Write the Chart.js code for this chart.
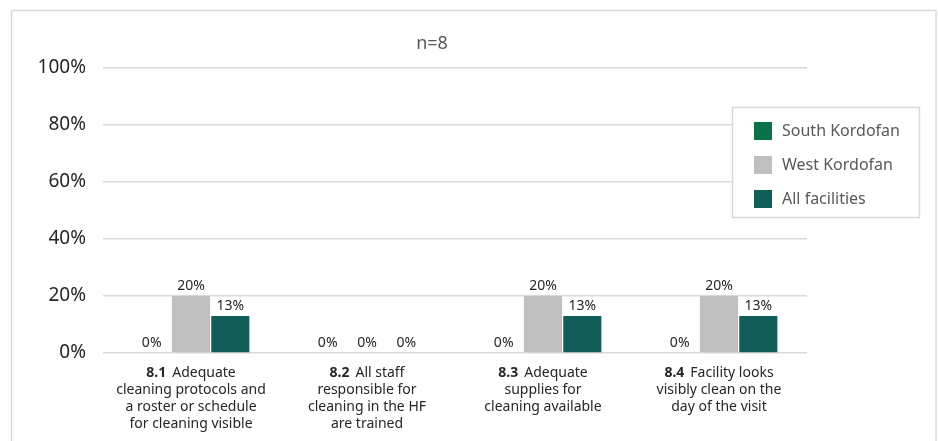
<!DOCTYPE html>
<html>
<head>
<meta charset="utf-8">
<script src="https://cdn.jsdelivr.net/npm/chart.js@4"></script>
<style>
  html, body { margin: 0; padding: 0; background: #fff; }
  #wrap { position: relative; width: 938px; height: 441px; }
</style>
</head>
<body>
<div id="wrap"><canvas id="chart" width="938" height="441"></canvas></div>
<script>
// data
const categories = ['8.1', '8.2', '8.3', '8.4'];
const categoryText = [
    ['Adequate', 'cleaning protocols and', 'a roster or schedule', 'for cleaning visible'],
    ['All staff', 'responsible for', 'cleaning in the HF', 'are trained'],
    ['Adequate', 'supplies for', 'cleaning available'],
    ['Facility looks', 'visibly clean on the', 'day of the visit']
];
const southKordofan = [0, 0, 0, 0];
const westKordofan = [20, 0, 20, 20];
const allFacilities = [13, 0, 13, 13];
const yTicks = [0, 20, 40, 60, 80, 100];
const subtitle = 'n=8';

const FONT = '"Noto Sans", "Open Sans", sans-serif';

// border, subtitle, value labels, category labels, legend box
const extras = {
    id: 'extras',
    beforeDraw(chart) {
        const c = chart.ctx;
        c.save();
        c.strokeStyle = '#d9d9d9';
        c.lineWidth = 1.5;
        c.strokeRect(11.5, 10.5, 924.5, 440);
        c.restore();
    },
    afterDatasetsDraw(chart) {
        const c = chart.ctx;
        const x = chart.scales.x;
        c.save();

        // subtitle
        c.fillStyle = '#595959';
        c.font = '18px ' + FONT;
        c.textAlign = 'center';
        c.textBaseline = 'middle';
        c.fillText(subtitle, 432, 44);

        // value labels
        c.fillStyle = '#262626';
        c.font = '14px ' + FONT;
        c.textBaseline = 'alphabetic';
        chart.data.datasets.forEach((ds, i) => {
            chart.getDatasetMeta(i).data.forEach((bar, j) => {
                c.fillText(Math.round(ds.data[j]) + '%', bar.x, bar.y - 6);
            });
        });

        // category labels with bold number
        categories.forEach((cat, j) => {
            const cx = x.getPixelForValue(j);
            const lines = categoryText[j];
            lines.forEach((line, k) => {
                const y = 373 + k * 17;
                c.textBaseline = 'middle';
                if (k === 0) {
                    c.font = 'bold 14px ' + FONT;
                    const bw = c.measureText(cat).width;
                    c.font = '14px ' + FONT;
                    const gap = 6;
                    const tw = c.measureText(line).width;
                    const start = cx - (bw + gap + tw) / 2;
                    c.textAlign = 'left';
                    c.font = 'bold 14px ' + FONT;
                    c.fillText(cat, start, y);
                    c.font = '14px ' + FONT;
                    c.fillText(line, start + bw + gap, y);
                } else {
                    c.textAlign = 'center';
                    c.font = '14px ' + FONT;
                    c.fillText(line, cx, y);
                }
            });
        });

        // legend box
        c.fillStyle = '#fff';
        c.fillRect(732, 107, 188, 111);
        c.strokeStyle = '#d9d9d9';
        c.lineWidth = 1.5;
        c.strokeRect(732.5, 107.5, 187, 110);
        c.font = '16px ' + FONT;
        c.textAlign = 'left';
        c.textBaseline = 'middle';
        chart.data.datasets.forEach((ds, i) => {
            const cy = 131 + i * 34;
            c.fillStyle = ds.backgroundColor;
            c.fillRect(754, cy - 9, 18, 18);
            c.fillStyle = '#595959';
            c.fillText(ds.label, 782, cy);
        });
        c.restore();
    }
};

new Chart(document.getElementById('chart'), {
    type: 'bar',
    data: {
        labels: categories,
        datasets: [{
            label: 'South Kordofan',
            data: southKordofan,
            backgroundColor: '#0b7148'
        }, {
            label: 'West Kordofan',
            data: westKordofan,
            backgroundColor: '#bfbfbf'
        }, {
            label: 'All facilities',
            data: allFacilities,
            backgroundColor: '#115e59'
        }]
    },
    options: {
        responsive: false,
        animation: false,
        layout: { padding: { top: 68, right: 131, bottom: 0, left: 0 } },
        datasets: { bar: { categoryPercentage: 0.67, barPercentage: 0.97 } },
        plugins: {
            legend: { display: false },
            tooltip: { enabled: false }
        },
        scales: {
            x: {
                grid: { display: false },
                border: { display: false },
                ticks: { display: false },
                afterFit(scale) { scale.height = 88; }
            },
            y: {
                min: 0,
                max: 100,
                afterBuildTicks(scale) { scale.ticks = yTicks.map(v => ({ value: v })); },
                afterFit(scale) { scale.width = 103; },
                grid: { color: '#d9d9d9', lineWidth: 1.5, drawTicks: false },
                border: { display: false },
                ticks: {
                    padding: 17,
                    color: '#262626',
                    font: { family: FONT, size: 19 },
                    callback: v => v + '%'
                }
            }
        }
    },
    plugins: [extras]
});
</script>
</body>
</html>
